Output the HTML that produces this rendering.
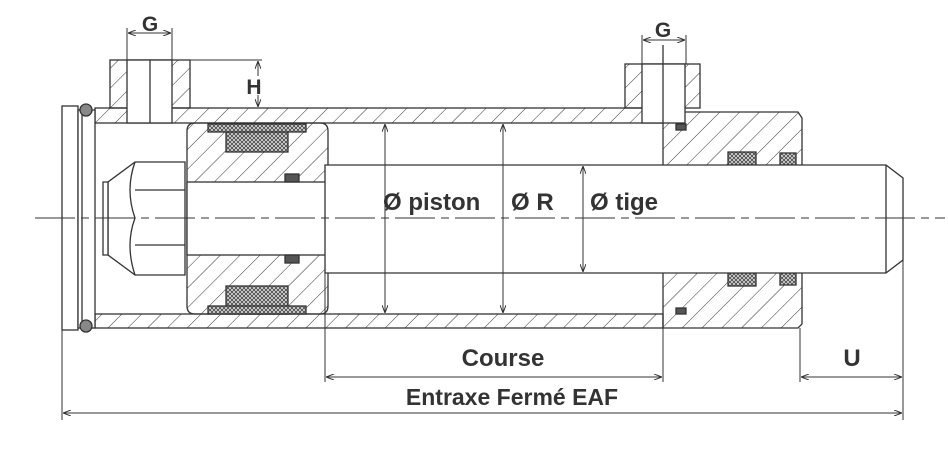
<!DOCTYPE html><html><head><style>body{margin:0;background:#fff}svg{display:block}text{font-family:"Liberation Sans",sans-serif;font-weight:bold;fill:#333}</style></head><body>
<svg width="948" height="449" viewBox="0 0 948 449" xmlns="http://www.w3.org/2000/svg">
<defs>
<pattern id="h" width="14" height="14" patternUnits="userSpaceOnUse" patternTransform="rotate(45)"><line x1="0" y1="0" x2="0" y2="14" stroke="#333" stroke-width="1"/></pattern>
<pattern id="x" width="4" height="4" patternUnits="userSpaceOnUse"><rect width="4" height="4" fill="#ddd"/><path d="M0 0L4 4M4 0L0 4" stroke="#444" stroke-width=".8"/></pattern>
<marker id="a" markerWidth="8" markerHeight="6" refX="8" refY="3" orient="auto-start-reverse"><path d="M0 0L8 3L0 6" fill="none" stroke="#333"/></marker>
</defs>
<g stroke="#333" stroke-width="1.3" fill="none">
<rect x="95" y="108" width="568" height="15" fill="url(#h)"/>
<rect x="95" y="314" width="568" height="14" fill="url(#h)"/>
<rect x="62" y="106" width="16" height="224" fill="#fff"/>
<rect x="78" y="110" width="17" height="218" fill="#fff"/>
<line x1="82" y1="112" x2="82" y2="326"/>
<circle cx="86" cy="110" r="6" fill="#888"/><circle cx="86" cy="326" r="6" fill="#888"/>
<path d="M663 112H798L802 118V324L798 328H663Z" fill="url(#h)"/>
<rect x="663" y="166" width="139" height="106" fill="#fff" stroke="none"/>
<rect x="728" y="152" width="28" height="13" fill="url(#x)"/><rect x="780" y="153" width="16" height="12" fill="url(#x)"/>
<rect x="728" y="273" width="28" height="13" fill="url(#x)"/><rect x="780" y="273" width="16" height="12" fill="url(#x)"/>
<rect x="676" y="124" width="10" height="6" fill="#555"/><rect x="676" y="308" width="10" height="6" fill="#555"/>
<rect x="110" y="60" width="80" height="48" fill="url(#h)"/>
<rect x="127" y="60" width="45" height="63" fill="#fff"/>
<line x1="150" y1="60" x2="150" y2="123"/>
<rect x="625" y="64" width="75" height="44" fill="url(#h)"/>
<rect x="642" y="64" width="43" height="59" fill="#fff"/>
<line x1="663" y1="45" x2="663" y2="123"/>
<path d="M195 123H320Q328 123 328 131V306Q328 314 320 314H195Q187 314 187 306V131Q187 123 195 123Z" fill="url(#h)"/>
<rect x="187" y="182" width="140" height="73" fill="#fff"/>
<rect x="226" y="124" width="62" height="28" fill="url(#x)"/><rect x="208" y="124" width="98" height="8" fill="url(#x)"/>
<rect x="226" y="286" width="62" height="28" fill="url(#x)"/><rect x="208" y="306" width="98" height="8" fill="url(#x)"/>
<rect x="285" y="174" width="14" height="8" fill="#555"/><rect x="285" y="255" width="14" height="8" fill="#555"/>
<path d="M135 162H185V275H135L108 255V182Z" fill="#fff"/>
<path d="M103 182H108V255H103Z" fill="#fff"/>
<path d="M135 162Q125 190 135 218Q125 245 135 275M135 190H185M135 245H185"/>
<path d="M325 165H886L903 178V260L886 273H325Z" fill="#fff"/>
<line x1="886" y1="165" x2="886" y2="273"/>
<line x1="35" y1="218" x2="945" y2="218" stroke-width="1" stroke-dasharray="40 6 8 6"/>
</g>
<g stroke="#333" stroke-width="1" fill="none">
<line x1="385" y1="124" x2="385" y2="313" marker-start="url(#a)" marker-end="url(#a)"/>
<line x1="503" y1="124" x2="503" y2="313" marker-start="url(#a)" marker-end="url(#a)"/>
<line x1="583" y1="166" x2="583" y2="272" marker-start="url(#a)" marker-end="url(#a)"/>
<line x1="62" y1="330" x2="62" y2="420"/><line x1="325" y1="273" x2="325" y2="382"/><line x1="663" y1="328" x2="663" y2="382"/>
<line x1="800" y1="328" x2="800" y2="382"/><line x1="903" y1="260" x2="903" y2="420"/>
<line x1="326" y1="377" x2="662" y2="377" marker-start="url(#a)" marker-end="url(#a)"/>
<line x1="801" y1="377" x2="902" y2="377" marker-start="url(#a)" marker-end="url(#a)"/>
<line x1="63" y1="413" x2="902" y2="413" marker-start="url(#a)" marker-end="url(#a)"/>
<line x1="127" y1="28" x2="127" y2="60"/><line x1="172" y1="28" x2="172" y2="60"/>
<line x1="128" y1="33" x2="171" y2="33" marker-start="url(#a)" marker-end="url(#a)"/>
<line x1="642" y1="35" x2="642" y2="64"/><line x1="686" y1="35" x2="686" y2="64"/>
<line x1="643" y1="40" x2="685" y2="40" marker-start="url(#a)" marker-end="url(#a)"/>
<line x1="190" y1="60" x2="262" y2="60"/>
<line x1="258" y1="61" x2="258" y2="76" marker-start="url(#a)"/><line x1="258" y1="95" x2="258" y2="107" marker-end="url(#a)"/>
</g>
<g font-size="24">
<text x="383" y="210">Ø piston</text><text x="511" y="210">Ø R</text><text x="590" y="210">Ø tige</text>
<text x="503" y="366" text-anchor="middle">Course</text><text x="852" y="366" text-anchor="middle">U</text>
<text x="512" y="405" text-anchor="middle" font-size="23">Entraxe Fermé EAF</text>
<text x="150" y="31" text-anchor="middle" font-size="21">G</text><text x="663" y="37" text-anchor="middle" font-size="21">G</text>
<text x="254" y="94" text-anchor="middle" font-size="21">H</text>
</g>
</svg></body></html>
